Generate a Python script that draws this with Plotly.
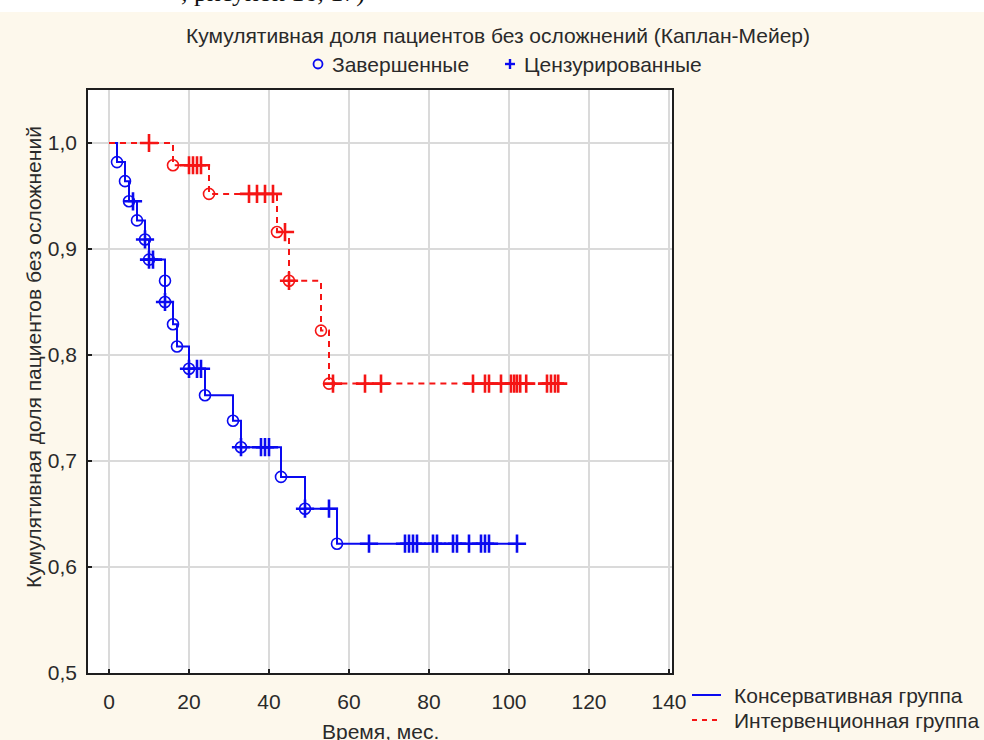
import plotly.graph_objects as go

# ---------------- data ----------------
# Консервативная группа (blue)
blue_event_t = [2, 4, 5, 7, 9, 10, 14, 14, 16, 17, 20, 24, 31, 33, 43, 49, 57]
blue_event_s = [0.982, 0.964, 0.945, 0.927, 0.909, 0.890, 0.870, 0.850, 0.829,
                0.808, 0.787, 0.762, 0.738, 0.713, 0.685, 0.655, 0.622]
blue_cens_t = [6, 9, 10, 11, 14, 20, 22, 23, 33, 38, 39, 40, 49, 55, 65, 74, 75,
               76, 77, 81, 82, 86, 87, 90, 93, 94, 95, 102]

# Интервенционная группа (red)
red_event_t = [16, 25, 42, 45, 53, 55]
red_event_s = [0.979, 0.952, 0.916, 0.870, 0.823, 0.773]
red_cens_t = [10, 20, 21, 22, 23, 35, 37, 39, 41, 44, 45, 56, 64, 68, 91, 94, 95,
              98, 100.5, 101.3, 102, 102.8, 104.3, 109.5, 110.5, 111.5, 112.3]

x_ticks = [0, 20, 40, 60, 80, 100, 120, 140]
y_ticks = [0.5, 0.6, 0.7, 0.8, 0.9, 1.0]
y_tick_labels = ["0,5", "0,6", "0,7", "0,8", "0,9", "1,0"]

title_text = "Кумулятивная доля пациентов без осложнений (Каплан-Мейер)"
y_title = "Кумулятивная доля пациентов без осложнений"
x_title = "Время, мес."
group_names = ["Консервативная группа", "Интервенционная группа"]
mark_names = ["Завершенные", "Цензурированные"]
top_cut_text = ", рисунок 16, 17)"

BLUE = "#0a0af0"
RED = "#f51515"
FONT = "Liberation Sans, Arial, sans-serif"
TXT = "#2a2a2a"
FS = 21

# plot-area geometry in page pixels
PL, PR, PT, PB = 88, 672, 90, 673
W, H = 984, 740


def px(x):
    return (x - PL) / (PR - PL)


def py(y):
    return (PB - y) / (PB - PT)


def level_at(t, ev_t, ev_s):
    s = 1.0
    for et, es in zip(ev_t, ev_s):
        if et <= t:
            s = es
    return s


def add_group(fig, ev_t, ev_s, cens_t, color, dash, name):
    xs = [0] + ev_t + [max(cens_t)]
    ys = [1.0] + ev_s + [ev_s[-1]]
    fig.add_trace(go.Scatter(x=xs, y=ys, mode="lines", name=name,
                             line=dict(color=color, width=2, dash=dash, shape="hv"),
                             showlegend=False, hoverinfo="skip"))
    fig.add_trace(go.Scatter(x=ev_t, y=ev_s, mode="markers", name=mark_names[0],
                             marker=dict(symbol="circle-open", size=11, color=color,
                                         line=dict(width=1.6, color=color)),
                             showlegend=False))
    cy = [level_at(t, ev_t, ev_s) for t in cens_t]
    fig.add_trace(go.Scatter(x=cens_t, y=cy, mode="markers", name=mark_names[1],
                             marker=dict(symbol="cross-thin", size=13, color=color,
                                         line=dict(width=2.6, color=color)),
                             showlegend=False))


fig = go.Figure()
add_group(fig, blue_event_t, blue_event_s, blue_cens_t, BLUE, "solid", group_names[0])
add_group(fig, red_event_t, red_event_s, red_cens_t, RED, "6px,5px", group_names[1])

axis_common = dict(showgrid=True, gridcolor="#dadada", gridwidth=2, zeroline=False,
                   showline=True, linecolor="#1e1e1e", linewidth=1.6, mirror=True,
                   ticks="inside", ticklen=4, tickwidth=1.5, tickcolor="#1e1e1e",
                   tickfont=dict(family=FONT, size=FS, color=TXT))

fig.update_xaxes(range=[-5.25, 140.75], tickvals=x_ticks, ticklabelstandoff=9, **axis_common)
fig.update_yaxes(range=[0.5, 1.05], tickvals=y_ticks, ticktext=y_tick_labels,
                 ticklabelstandoff=5, **axis_common)


def text_ann(text, x, y, xanchor="left", size=FS, angle=0, family=FONT, color=TXT, yanchor="middle"):
    return dict(text=text, xref="paper", yref="paper", x=px(x), y=py(y), xanchor=xanchor,
                yanchor=yanchor, showarrow=False, textangle=angle, borderpad=0,
                font=dict(family=family, size=size, color=color))


shapes = [
    # white strip at the very top of the picture
    dict(type="rect", xref="paper", yref="paper", x0=px(-20), x1=px(W + 20), y0=py(12), y1=py(-20),
         fillcolor="white", line=dict(width=0), layer="below"),
    # top legend: circle (completed) and cross (censored)
    dict(type="circle", xref="paper", yref="paper", xsizemode="pixel", ysizemode="pixel",
         xanchor=px(318), yanchor=py(64), x0=-4.5, x1=4.5, y0=-4.5, y1=4.5,
         line=dict(color=BLUE, width=1.8)),
    dict(type="line", xref="paper", yref="paper", x0=px(505), x1=px(515), y0=py(64), y1=py(64),
         line=dict(color=BLUE, width=2.4)),
    dict(type="line", xref="paper", yref="paper", x0=px(510), x1=px(510), y0=py(59), y1=py(69),
         line=dict(color=BLUE, width=2.4)),
    # bottom-right legend lines
    dict(type="line", xref="paper", yref="paper", x0=px(692), x1=px(721), y0=py(695), y1=py(695),
         line=dict(color=BLUE, width=2)),
    dict(type="line", xref="paper", yref="paper", x0=px(692), x1=px(721), y0=py(720), y1=py(720),
         line=dict(color=RED, width=2, dash="5px,5px")),
]

annotations = [
    text_ann(title_text, 498, 36, xanchor="center"),
    text_ann(mark_names[0], 331, 64),
    text_ann(mark_names[1], 523, 64),
    text_ann(group_names[0], 733, 695),
    text_ann(group_names[1], 733, 720),
    text_ann(y_title, 33, 357, xanchor="center", angle=-90),
    text_ann(x_title, 380, 731, xanchor="center"),
    text_ann(top_cut_text, 180, 8, family="Liberation Serif, Times New Roman, serif", size=26,
             color="#111", yanchor="bottom"),
]

fig.update_layout(
    width=W, height=H,
    margin=dict(l=PL, r=W - PR, t=PT, b=H - PB),
    paper_bgcolor="#fdf8ec", plot_bgcolor="white",
    font=dict(family=FONT, color=TXT),
    showlegend=False,
    shapes=shapes,
    annotations=annotations,
)

fig.write_html("out.html", config={"displayModeBar": False},
               post_script="document.body.style.margin='0';document.body.style.overflow='hidden';")
